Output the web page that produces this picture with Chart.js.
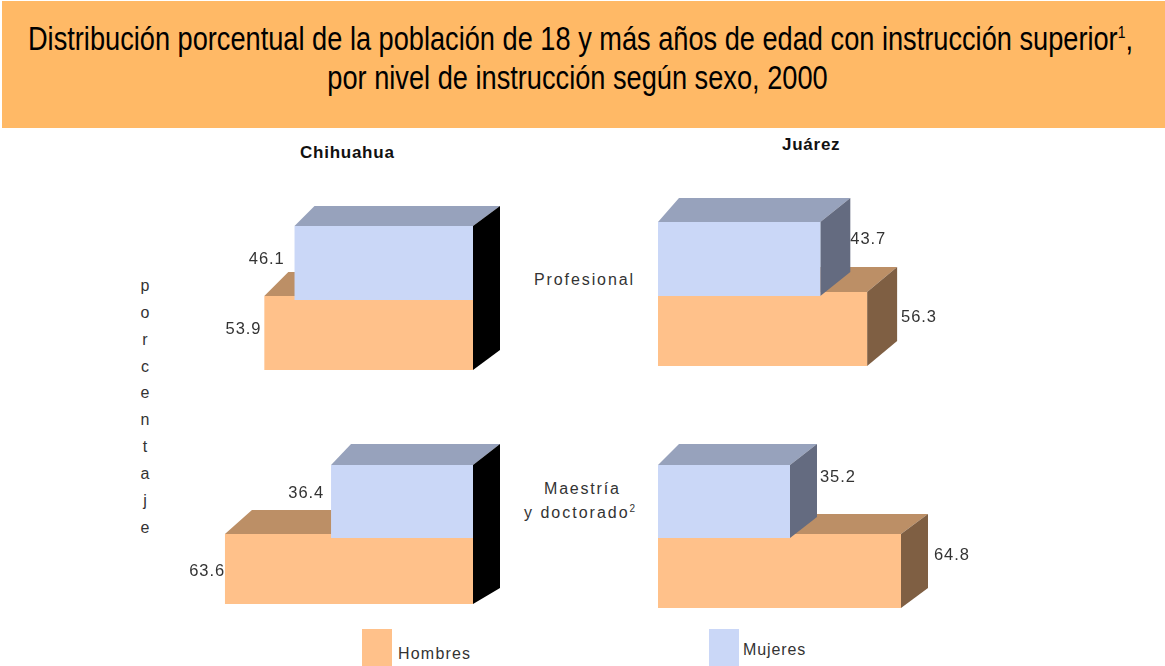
<!DOCTYPE html>
<html lang="es">
<head>
<meta charset="utf-8">
<title>Distribución porcentual</title>
<script src="https://cdn.jsdelivr.net/npm/chart.js@4"></script>
<style>
html,body{margin:0;padding:0;background:#fff;}
#page{position:relative;width:1165px;height:666px;overflow:hidden;font-family:"Liberation Sans",Arial,sans-serif;color:#222;}
#band{position:absolute;left:2px;top:1px;width:1163px;height:127px;background:#FFB966;}
.t{position:absolute;white-space:nowrap;}
.title{font-size:27.2px;color:#000;width:1165px;text-align:center;transform:scaleY(1.22);line-height:30px;}
.title sup{font-size:14px;line-height:0;}
.head{font-weight:bold;font-size:17px;color:#111;letter-spacing:.75px;}
.lab{font-size:16px;line-height:18px;color:#333;}
.swatch{position:absolute;width:30px;height:37px;top:629px;}
canvas{position:absolute;left:0;top:0;pointer-events:none;}
</style>
</head>
<body>
<div id="page">
  <div id="band"></div>
  <div class="t title" style="left:-2px;top:24px">Distribución porcentual de la población de 18 y más años de edad con instrucción superior<sup>1</sup>,</div>
  <div class="t title" style="left:-5px;top:63px">por nivel de instrucción según sexo, 2000</div>
  <div class="t head" style="left:300px;top:143px">Chihuahua</div>
  <div class="t head" style="left:782px;top:135px">Juárez</div>
  <div class="t lab" style="left:534px;top:271px;letter-spacing:1.9px">Profesional</div>
  <div class="t lab" style="left:544px;top:480px;letter-spacing:1.8px">Maestría</div>
  <div class="t lab" style="left:524px;top:504px;letter-spacing:2px">y doctorado<sup style="font-size:10px;line-height:0">2</sup></div>
  <div class="t lab" id="axisWord" style="left:139px;top:273px;line-height:26.85px;text-align:center;width:12px;white-space:normal"></div>
  <div class="swatch" style="left:362px;background:#FFC18A"></div>
  <div class="t lab" style="left:398px;top:645px;letter-spacing:1.2px">Hombres</div>
  <div class="swatch" style="left:709px;background:#CAD7F7"></div>
  <div class="t lab" style="left:743px;top:641px;letter-spacing:.9px">Mujeres</div>
</div>
<script>
const categories = ["Profesional", "Maestría y doctorado"];
const seriesNames = ["Mujeres", "Hombres"];
const chihuahuaMujeres = [46.1, 36.4];
const chihuahuaHombres = [53.9, 63.6];
const juarezMujeres = [43.7, 35.2];
const juarezHombres = [56.3, 64.8];
const axisTitle = "porcentaje";

document.getElementById('axisWord').innerHTML = axisTitle.split('').join('<br>');

const FRONT = {Mujeres:'#CAD7F7', Hombres:'#FFC18A'};
const TOP = {Mujeres:'#97A2BC', Hombres:'#BC8F66'};
const SIDE = {Mujeres:'#646B80', Hombres:'#7F5F43'};

function poly(ctx, pts, color){
  ctx.fillStyle = color;
  ctx.beginPath();
  pts.forEach((p,i)=> i ? ctx.lineTo(p[0],p[1]) : ctx.moveTo(p[0],p[1]));
  ctx.closePath();
  ctx.fill();
}

const depthPlugin = {
  id:'depth',
  beforeDatasetDraw(chart,args){
    const cfg = chart.options.plugins.depth;
    const d = cfg.faces[args.index];
    const name = chart.data.datasets[args.index].label;
    const ctx = chart.ctx;
    args.meta.data.forEach(el=>{
      const p = el.getProps(['x','y','base','height'],true);
      const x0 = Math.min(p.x,p.base), x1 = Math.max(p.x,p.base);
      const y0 = p.y-p.height/2, y1 = p.y+p.height/2;
      poly(ctx,[[x0,y0],[x0+d.left,y0-d.rise],[x1+d.right,y0-d.rise],[x1,y0]],TOP[name]);
      poly(ctx,[[x1,y0],[x1+d.right,y0-d.rise],[x1+d.right,y1-d.side],[x1,y1]],cfg.sideColor||SIDE[name]);
    });
  },
  afterDatasetsDraw(chart){
    const cfg = chart.options.plugins.depth;
    const ctx = chart.ctx;
    ctx.save();
    ctx.font = '16.5px "Liberation Sans", Arial, sans-serif';
    ctx.letterSpacing = '0.9px';
    ctx.fillStyle = '#333';
    ctx.textBaseline = 'middle';
    ctx.textAlign = cfg.reverse ? 'right' : 'left';
    chart.data.datasets.forEach((ds,i)=>{
      const el = chart.getDatasetMeta(i).data[0];
      const n = cfg.nudge[i];
      ctx.fillText(ds.data[0].toFixed(1), el.x+n[0], el.y+n[1]);
    });
    ctx.restore();
  }
};

function panel(p){
  const c = document.createElement('canvas');
  c.width = 1165; c.height = 666;
  document.getElementById('page').appendChild(c);
  new Chart(c,{
    type:'bar',
    data:{
      labels:[p.category],
      datasets:[
        {label:seriesNames[0],data:[p.mujeres],backgroundColor:FRONT.Mujeres,barPercentage:p.pct[0],categoryPercentage:1,clip:false},
        {label:seriesNames[1],data:[p.hombres],backgroundColor:FRONT.Hombres,barPercentage:p.pct[1],categoryPercentage:1,clip:false}
      ]
    },
    options:{
      indexAxis:'y',
      responsive:false,
      animation:false,
      layout:{padding:{left:p.area[0],top:p.area[1],right:1165-p.area[2],bottom:666-p.area[3]}},
      scales:{
        x:{display:false,min:0,max:70,reverse:!!p.reverse},
        y:{display:false}
      },
      plugins:{
        legend:{display:false},
        tooltip:{enabled:false},
        depth:{faces:p.faces,nudge:p.nudge,reverse:!!p.reverse,sideColor:p.sideColor}
      }
    },
    plugins:[depthPlugin]
  });
}

panel({category:categories[0],mujeres:chihuahuaMujeres[0],hombres:chihuahuaHombres[0],reverse:true,
  area:[202,228,473,368],pct:[1.057,1.057],sideColor:'#000',
  faces:[{left:20,right:27,rise:20,side:20},{left:24,right:27,rise:24,side:20}],
  nudge:[[-10,-4],[-3,-4]]});
panel({category:categories[1],mujeres:chihuahuaMujeres[1],hombres:chihuahuaHombres[1],reverse:true,
  area:[200,467.75,473,602.75],pct:[1.0815,1.037],sideColor:'#000',
  faces:[{left:20,right:27,rise:21,side:21},{left:27,right:27,rise:24,side:16}],
  nudge:[[-7,-8.5],[0,2]]});
panel({category:categories[0],mujeres:juarezMujeres[0],hombres:juarezHombres[0],
  area:[658,224,918,364],pct:[1.057,1.057],
  faces:[{left:21,right:30,rise:24,side:24},{left:21,right:30,rise:25,side:25}],
  nudge:[[30,-20],[34,-12]]});
panel({category:categories[1],mujeres:juarezMujeres[1],hombres:juarezHombres[1],
  area:[658,466.75,920.5,605.75],pct:[1.0504,1.0647],
  faces:[{left:21,right:27,rise:21,side:21},{left:21,right:27,rise:20,side:20}],
  nudge:[[30,-24.5],[33,-16]]});
</script>
</body>
</html>
